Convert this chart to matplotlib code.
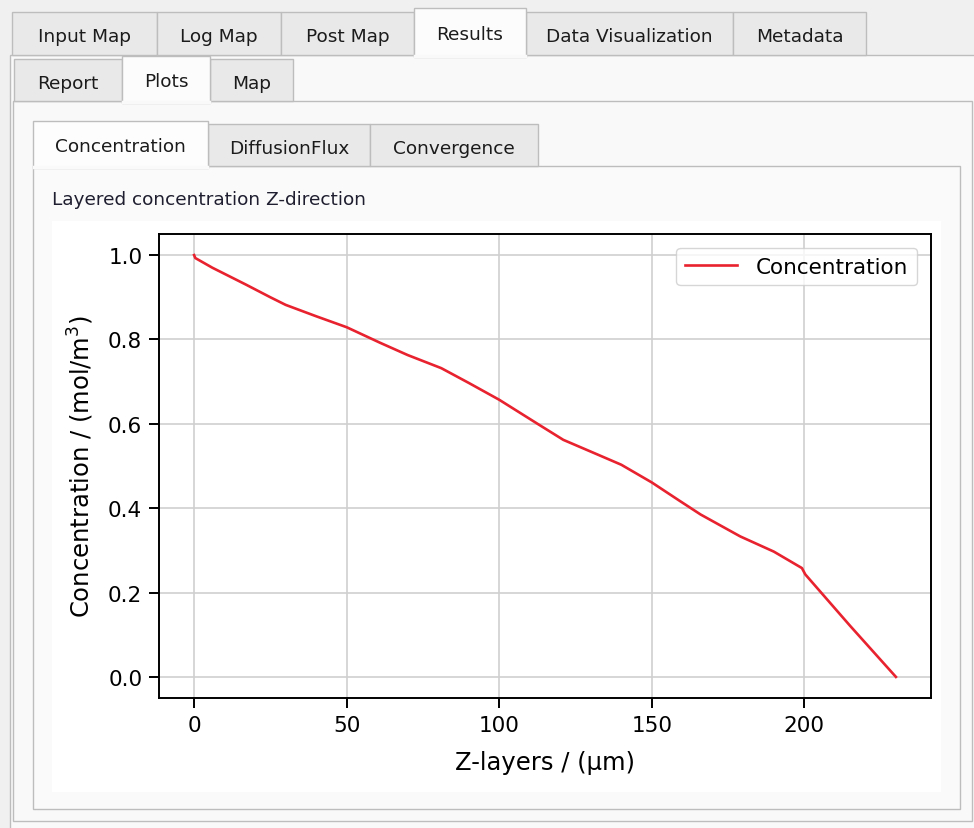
import matplotlib
matplotlib.use("Agg")
import matplotlib.pyplot as plt
from matplotlib.patches import Rectangle

# ---------------- data ----------------
z_layers = [0, 0.4, 6, 17, 25, 30, 40, 50, 61, 70, 81, 90, 100, 113, 121,
            131, 140, 150, 159, 166, 179, 190, 199.2, 200.3, 215, 230]
concentration = [1.0, 0.993, 0.970, 0.930, 0.900, 0.882, 0.855, 0.829, 0.792,
                 0.763, 0.732, 0.697, 0.657, 0.598, 0.562, 0.531, 0.503, 0.461,
                 0.418, 0.385, 0.333, 0.297, 0.258, 0.243, 0.121, 0.0]
x_ticks = [0, 50, 100, 150, 200]
y_ticks = [0.0, 0.2, 0.4, 0.6, 0.8, 1.0]

top_tabs = ["Input Map", "Log Map", "Post Map", "Results", "Data Visualization", "Metadata"]
top_sel = "Results"
mid_tabs = ["Report", "Plots", "Map"]
mid_sel = "Plots"
sub_tabs = ["Concentration", "DiffusionFlux", "Convergence"]
sub_sel = "Concentration"
panel_title = "Layered concentration Z-direction"

# ---------------- figure ----------------
W, H = 974, 829
fig = plt.figure(figsize=(W / 100, H / 100), dpi=100)
fig.patch.set_facecolor("#f0f0f0")

gui = fig.add_axes([0, 0, 1, 1])
gui.set_xlim(0, W)
gui.set_ylim(H, 0)
gui.axis("off")

GUI_FONT = 13.3
TXT = "#1b1b1b"
BORDER = "#bdbdbd"


def rect(x0, y0, x1, y1, fc, ec=BORDER, lw=1.0, z=1):
    gui.add_patch(Rectangle((x0, y0), x1 - x0, y1 - y0, facecolor=fc,
                            edgecolor=ec, linewidth=lw, zorder=z))


def tab_row(names, edges, sel, y0, y1, text_y, z=2):
    for name, (a, b) in zip(names, edges):
        if name == sel:
            continue
        rect(a, y0, b, y1, "#e9e9e9", z=z)
        gui.text((a + b) / 2, text_y, name, ha="center", va="center",
                 fontsize=GUI_FONT, color=TXT, zorder=z + 1)


def sel_tab(names, edges, sel, y0, y1, fc, pane_fc, text_y, z=5):
    for name, (a, b) in zip(names, edges):
        if name != sel:
            continue
        rect(a, y0, b, y1 + 1.5, fc, z=z)
        gui.plot([a + 0.8, b - 0.8], [y1 + 1, y1 + 1], color=pane_fc, lw=2.5, zorder=z + 1)
        gui.text((a + b) / 2, text_y - 2, name, ha="center", va="center",
                 fontsize=GUI_FONT, color=TXT, zorder=z + 2)


# level 1
top_edges = [(12, 157), (157, 281), (281, 414), (414, 526), (526, 733), (733, 866)]
rect(10, 56, 980, 840, "#f9f9f9", z=1)
tab_row(top_tabs, top_edges, top_sel, 13, 56, 37)
sel_tab(top_tabs, top_edges, top_sel, 9, 56, "#fcfcfc", "#f9f9f9", 37)

# level 2
mid_edges = [(14, 122), (122, 210), (210, 293)]
rect(13, 102, 972, 822, "#f9f9f9", z=4)
tab_row(mid_tabs, mid_edges, mid_sel, 60, 102, 84, z=4)
sel_tab(mid_tabs, mid_edges, mid_sel, 57, 102, "#fcfcfc", "#f9f9f9", 84, z=6)

# level 3
sub_edges = [(33, 208), (208, 370), (370, 538)]
rect(33, 167, 960, 810, "#fafafa", z=9)
tab_row(sub_tabs, sub_edges, sub_sel, 125, 167, 149, z=9)
sel_tab(sub_tabs, sub_edges, sub_sel, 122, 167, "#fdfdfd", "#fafafa", 149, z=11)

gui.text(52, 200, panel_title, ha="left", va="center", fontsize=GUI_FONT,
         color="#1e1e30", zorder=14)

# plot canvas
rect(52, 222, 941, 793, "white", ec="none", lw=0, z=14)

# ---------------- plot ----------------
L, R, T, B = 159, 931, 235, 699
ax = fig.add_axes([L / W, 1 - B / H, (R - L) / W, (B - T) / H])
ax.set_facecolor("white")
ax.plot(z_layers, concentration, color="#e8222e", lw=1.9, label="Concentration",
        zorder=3)
ax.set_xticks(x_ticks)
ax.set_yticks(y_ticks)
ax.set_yticklabels([f"{v:.1f}" for v in y_ticks])
ax.grid(True, color="#cfcfcf", lw=1.2)
ax.set_axisbelow(True)
for s in ax.spines.values():
    s.set_linewidth(1.4)
    s.set_color("black")
ax.tick_params(labelsize=15.5, length=7, width=1.4, pad=5, colors="black")
ax.set_xlabel("Z-layers / (\u00b5m)", fontsize=17.5)
ax.set_ylabel("Concentration / (mol/m$^3$)", fontsize=17.5)
ax.xaxis.set_label_coords(0.5, -0.113)
ax.yaxis.set_label_coords(-0.082, 0.5)
ax.legend(loc="upper right", fontsize=15.5, borderaxespad=0.65,
          handlelength=2.4, handletextpad=0.9, fancybox=True)

fig.savefig("out.png", dpi=100, facecolor=fig.get_facecolor())
